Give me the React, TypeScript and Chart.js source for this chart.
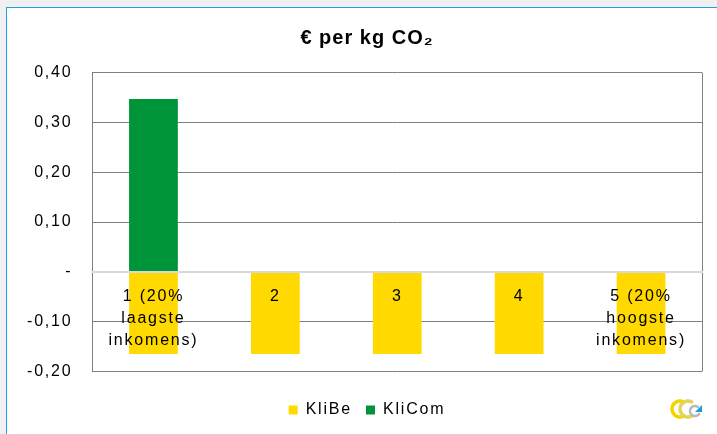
import React, { useEffect, useRef } from 'react';
import { Chart, registerables } from 'chart.js';

Chart.register(...registerables);

// ---- data ----
const categories: (string | string[])[] = [
  ['1 (20%', 'laagste', 'inkomens)'],
  '2',
  '3',
  '4',
  ['5 (20%', 'hoogste', 'inkomens)'],
];
const seriesNames = ['KliBe', 'KliCom'];
const kliBeValues = [-0.165, -0.165, -0.165, -0.165, -0.165];
const kliComValues: (number | null)[] = [0.347, null, null, null, null];
const yMin = -0.2;
const yMax = 0.4;
const yStep = 0.1;
const titleText = '€ per kg CO₂';

const FONT = "'Liberation Sans', Arial, 'DejaVu Sans', sans-serif";
const SPACING = '1.8px';
const TITLE_SPACING = '1px';
const BOX_SHIFT = 8;

const formatTick = (v: number) => {
  const r = Math.round(v * 100) / 100;
  if (Math.abs(r) < 1e-9) return '-';
  return r.toFixed(2).replace('.', ',');
};

const spacingPlugin = {
  id: 'spacing',
  beforeLayout(chart: any) {
    chart.ctx.letterSpacing = SPACING;
  },
  afterLayout(chart: any) {
    // centre title and legend like the original (which ignores the left padding)
    const shift = (box: any) => {
      if (!box) return;
      box.left += BOX_SHIFT;
      box.right += BOX_SHIFT;
    };
    shift(chart.titleBlock);
    shift(chart.legend);
    const t = chart.titleBlock;
    if (t && !t.__wrapped) {
      const orig = t.draw;
      t.draw = function (...args: any[]) {
        const ctx = chart.ctx;
        ctx.save();
        ctx.letterSpacing = TITLE_SPACING;
        orig.apply(this, args);
        ctx.restore();
      };
      t.__wrapped = true;
    }
  },
  beforeDraw(chart: any) {
    chart.ctx.letterSpacing = SPACING;
  },
};

const framePlugin = {
  id: 'frame',
  beforeDatasetsDraw(chart: any) {
    const { ctx, chartArea: a } = chart;
    ctx.save();
    ctx.strokeStyle = '#808080';
    ctx.lineWidth = 1;
    const x = Math.round(a.right) + 0.5;
    ctx.beginPath();
    ctx.moveTo(x, a.top);
    ctx.lineTo(x, a.bottom);
    ctx.stroke();
    ctx.restore();
  },
};

const logoPlugin = {
  id: 'logo',
  afterDraw(chart: any) {
    const ctx = chart.ctx;
    const cx = chart.width - 31;
    const cy = chart.height - 25;
    ctx.save();
    ctx.lineCap = 'round';
    ctx.lineWidth = 3.5;
    ctx.strokeStyle = '#F2D400';
    ctx.beginPath();
    ctx.arc(cx - 6, cy, 8, 0.35 * Math.PI, 1.65 * Math.PI);
    ctx.stroke();
    ctx.strokeStyle = '#E3D35A';
    ctx.beginPath();
    ctx.arc(cx + 2, cy, 8, 0.35 * Math.PI, 1.65 * Math.PI);
    ctx.stroke();
    ctx.lineWidth = 2.5;
    ctx.strokeStyle = '#B8B8B8';
    ctx.beginPath();
    ctx.arc(cx + 9, cy + 2, 5, 0.2 * Math.PI, 1.7 * Math.PI);
    ctx.stroke();
    ctx.fillStyle = '#1A9BE0';
    ctx.beginPath();
    ctx.moveTo(cx + 9, cy + 3);
    ctx.lineTo(cx + 16, cy - 4);
    ctx.lineTo(cx + 16, cy + 3);
    ctx.closePath();
    ctx.fill();
    ctx.restore();
  },
};

export default function App() {
  const ref = useRef<HTMLCanvasElement | null>(null);

  useEffect(() => {
    if (!ref.current) return;
    const chart = new Chart(ref.current, {
      type: 'bar',
      data: {
        labels: categories as any,
        datasets: [
          {
            label: seriesNames[0],
            data: kliBeValues,
            backgroundColor: '#FFD900',
            borderWidth: 0,
            barPercentage: 0.4,
            categoryPercentage: 1,
          },
          {
            label: seriesNames[1],
            data: kliComValues as any,
            backgroundColor: '#009439',
            borderWidth: 0,
            barPercentage: 0.4,
            categoryPercentage: 1,
          },
        ],
      },
      options: {
        responsive: true,
        maintainAspectRatio: false,
        animation: false,
        layout: { padding: { left: 8, right: 15, top: 0, bottom: 6 } },
        plugins: {
          title: {
            display: true,
            text: titleText,
            color: '#000',
            font: { family: FONT, size: 20, weight: 'bold', lineHeight: 1.2 },
            padding: { top: 17, bottom: 22.5 },
          },
          legend: {
            position: 'bottom',
            labels: {
              boxWidth: 9,
              boxHeight: 9,
              padding: 14,
              color: '#000',
              font: { family: FONT, size: 16 },
            },
            title: {
              display: true,
              text: ' ',
              font: { family: FONT, size: 12, lineHeight: 1 },
              padding: { top: 4.5, bottom: 0 },
            },
          },
          tooltip: { enabled: false },
        },
        scales: {
          x: {
            type: 'category',
            stacked: true,
            position: { y: 0 } as any,
            offset: true,
            grid: { display: false, drawTicks: false },
            border: { display: true, color: '#D9D9D9', width: 2, z: 1 } as any,
            ticks: {
              z: 1,
              color: '#000',
              padding: 13.5,
              maxRotation: 0,
              minRotation: 0,
              autoSkip: false,
              font: { family: FONT, size: 16, lineHeight: 1.375 },
            },
          },
          y: {
            stacked: true,
            min: yMin,
            max: yMax,
            afterFit: (s: any) => {
              s.width = 76.5;
            },
            grid: {
              color: (c: any) =>
                c.tick && Math.abs(c.tick.value) < 1e-9 ? 'rgba(0,0,0,0)' : '#808080',
              lineWidth: 1,
              drawTicks: false,
            },
            border: { color: '#808080', width: 1 },
            ticks: {
              stepSize: yStep,
              padding: 20,
              color: '#000',
              font: { family: FONT, size: 16 },
              callback: (v: any) => formatTick(Number(v)),
            },
          },
        },
      },
      plugins: [spacingPlugin, framePlugin, logoPlugin],
    } as any);
    return () => chart.destroy();
  }, []);

  return (
    <div
      style={{
        position: 'fixed',
        left: 0,
        top: 0,
        width: 717,
        height: 434,
        background: '#F0F0F0',
        overflow: 'hidden',
      }}
    >
      <div
        style={{
          position: 'absolute',
          left: 6,
          top: 7,
          right: 0,
          bottom: 0,
          background: '#FFFFFF',
          borderLeft: '1px solid #1BA1E2',
          borderTop: '1px solid #1BA1E2',
        }}
      >
        <div style={{ position: 'absolute', left: 1, top: 1, width: 709, height: 425 }}>
          <canvas ref={ref} />
        </div>
      </div>
    </div>
  );
}
